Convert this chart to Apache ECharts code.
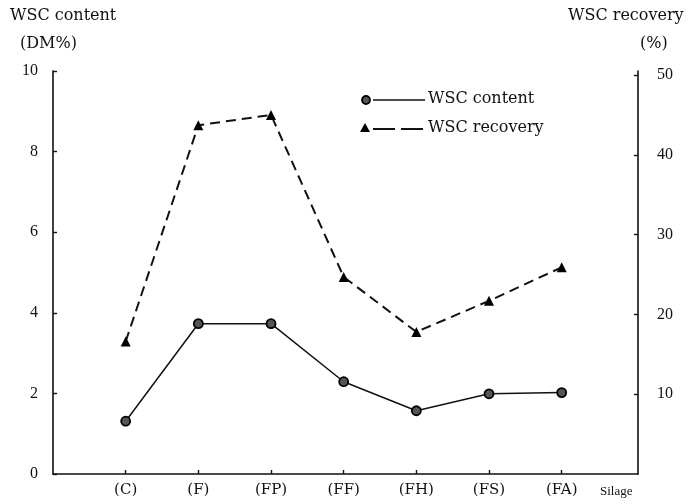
<!DOCTYPE html>
<html><head><meta charset="utf-8">
<script src="https://cdn.jsdelivr.net/npm/echarts@6/dist/echarts.min.js"></script>
<style>html,body{margin:0;padding:0;background:#fff}#c{width:695px;height:504px}</style>
</head><body><div id="c"></div>
<script>
const categories = ['(C)', '(F)', '(FP)', '(FF)', '(FH)', '(FS)', '(FA)'];
const wscContent = [1.31, 3.73, 3.73, 2.29, 1.57, 1.99, 2.02];
const wscRecovery = [16.6, 43.7, 45.0, 24.7, 17.8, 21.7, 25.9];
const leftTicks = [0, 2, 4, 6, 8, 10];
const rightTicks = [10, 20, 30, 40, 50];
const xPositions = categories.map((c, i) => i + 1);

const ink = '#111';
const serif = 'Liberation Serif';
const wide = 'DejaVu Serif';

const chart = echarts.init(document.getElementById('c'), null, {renderer: 'canvas'});
chart.setOption({
  animation: false,
  backgroundColor: '#fff',
  grid: {left: 53, right: 57, top: 71, bottom: 30, containLabel: false},
  xAxis: {
    type: 'value', min: 0, max: 8.05,
    splitLine: {show: false},
    axisLine: {show: true, lineStyle: {color: ink, width: 1.6}},
    axisTick: {show: true, inside: true, customValues: xPositions, length: 4, lineStyle: {color: ink, width: 1.4}},
    axisLabel: {customValues: xPositions, formatter: v => categories[Math.round(v) - 1] || '',
      margin: 9, color: ink, fontFamily: wide, fontSize: 15}
  },
  yAxis: [{
    type: 'value', min: 0, max: 10, position: 'left',
    splitLine: {show: false},
    axisLine: {show: true, lineStyle: {color: ink, width: 1.6}},
    axisTick: {show: true, inside: true, customValues: leftTicks, length: 4, lineStyle: {color: ink, width: 1.4}},
    axisLabel: {customValues: leftTicks, margin: 15, color: ink, fontFamily: serif, fontSize: 16}
  }, {
    type: 'value', min: 0, max: 50.5, position: 'right',
    splitLine: {show: false},
    axisLine: {show: true, lineStyle: {color: ink, width: 1.6}},
    axisTick: {show: true, inside: true, customValues: rightTicks, length: 4, lineStyle: {color: ink, width: 1.4}},
    axisLabel: {customValues: rightTicks, margin: 19, color: ink, fontFamily: serif, fontSize: 16}
  }],
  series: [{
    name: 'WSC content', type: 'line', yAxisIndex: 0,
    data: xPositions.map((x, i) => [x, wscContent[i]]),
    symbol: 'circle', symbolSize: 9,
    itemStyle: {color: '#555', borderColor: '#000', borderWidth: 1.8},
    lineStyle: {color: ink, width: 1.5}
  }, {
    name: 'WSC recovery', type: 'line', yAxisIndex: 1,
    data: xPositions.map((x, i) => [x, wscRecovery[i]]),
    symbol: 'triangle', symbolSize: 10,
    itemStyle: {color: '#000'},
    lineStyle: {color: ink, width: 2, type: [10, 6]}
  }],
  graphic: [
    {type: 'text', left: 10, top: 8, style: {text: 'WSC content', fill: ink, font: '16px "DejaVu Serif"'}},
    {type: 'text', left: 20, top: 36, style: {text: '(DM%)', fill: ink, font: '16px "DejaVu Serif"'}},
    {type: 'text', left: 568, top: 8, style: {text: 'WSC recovery', fill: ink, font: '16px "DejaVu Serif"'}},
    {type: 'text', left: 640, top: 36, style: {text: '(%)', fill: ink, font: '16px "DejaVu Serif"'}},
    {type: 'text', left: 600, top: 485, style: {text: 'Silage', fill: ink, font: '13px "Liberation Serif"'}},
    {type: 'circle', shape: {cx: 366, cy: 100, r: 4}, style: {fill: '#555', stroke: '#000', lineWidth: 1.8}},
    {type: 'line', shape: {x1: 373, y1: 100, x2: 425, y2: 100}, style: {stroke: ink, lineWidth: 1.5}},
    {type: 'text', left: 428, top: 91, style: {text: 'WSC content', fill: ink, font: '16px "DejaVu Serif"'}},
    {type: 'polygon', shape: {points: [[365, 123], [360, 132], [370, 132]]}, style: {fill: '#000'}},
    {type: 'line', shape: {x1: 373, y1: 129, x2: 425, y2: 129}, style: {stroke: ink, lineWidth: 2, lineDash: [22, 6]}},
    {type: 'text', left: 428, top: 120, style: {text: 'WSC recovery', fill: ink, font: '16px "DejaVu Serif"'}}
  ]
});
</script></body></html>
